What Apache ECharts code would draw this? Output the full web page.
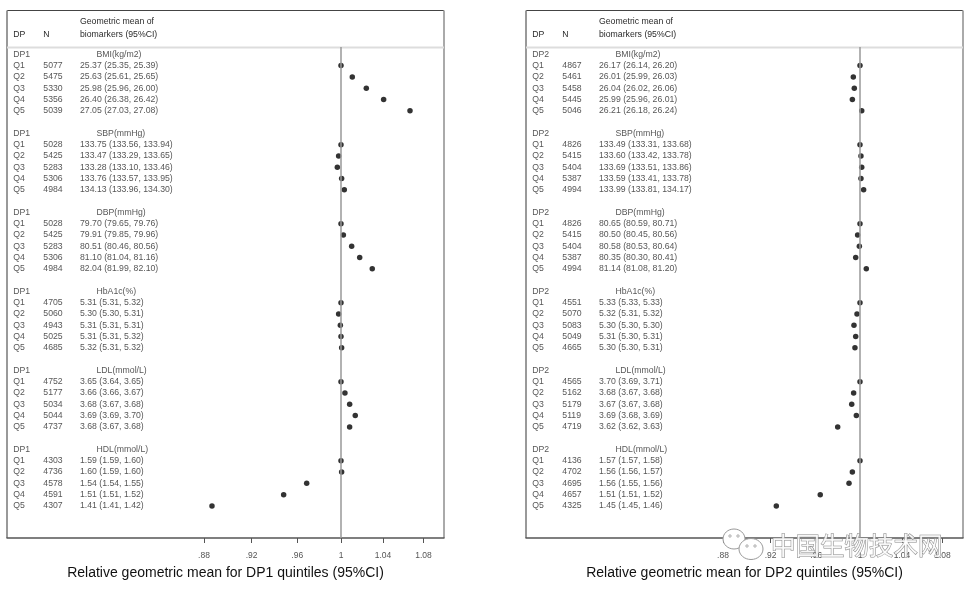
<!DOCTYPE html>
<html><head><meta charset="utf-8">
<script src="https://cdn.jsdelivr.net/npm/echarts@6/dist/echarts.min.js"></script>
<style>html,body{margin:0;padding:0;background:#fff}#c{width:969px;height:589px}</style>
</head><body><div id="c"></div>
<script>
const quintiles = ['Q1','Q2','Q3','Q4','Q5'];
const biomarkers = ['BMI(kg/m2)','SBP(mmHg)','DBP(mmHg)','HbA1c(%)','LDL(mmol/L)','HDL(mmol/L)'];
const panelNames = ['DP1','DP2'];
const axisTitles = ['Relative geometric mean for DP1 quintiles (95%CI)','Relative geometric mean for DP2 quintiles (95%CI)'];
const tickValues = [0.88,0.92,0.96,1,1.04,1.08];
const tickLabels = ['.88','.92','.96','1','1.04','1.08'];

const dp1N = [[5077,5475,5330,5356,5039],[5028,5425,5283,5306,4984],[5028,5425,5283,5306,4984],[4705,5060,4943,5025,4685],[4752,5177,5034,5044,4737],[4303,4736,4578,4591,4307]];
const dp1Mean = [
 ['25.37 (25.35, 25.39)','25.63 (25.61, 25.65)','25.98 (25.96, 26.00)','26.40 (26.38, 26.42)','27.05 (27.03, 27.08)'],
 ['133.75 (133.56, 133.94)','133.47 (133.29, 133.65)','133.28 (133.10, 133.46)','133.76 (133.57, 133.95)','134.13 (133.96, 134.30)'],
 ['79.70 (79.65, 79.76)','79.91 (79.85, 79.96)','80.51 (80.46, 80.56)','81.10 (81.04, 81.16)','82.04 (81.99, 82.10)'],
 ['5.31 (5.31, 5.32)','5.30 (5.30, 5.31)','5.31 (5.31, 5.31)','5.31 (5.31, 5.32)','5.32 (5.31, 5.32)'],
 ['3.65 (3.64, 3.65)','3.66 (3.66, 3.67)','3.68 (3.67, 3.68)','3.69 (3.69, 3.70)','3.68 (3.67, 3.68)'],
 ['1.59 (1.59, 1.60)','1.60 (1.59, 1.60)','1.54 (1.54, 1.55)','1.51 (1.51, 1.52)','1.41 (1.41, 1.42)']
];
const dp1Rel = [
 [1.000, 1.0106, 1.0239, 1.0406, 1.0665],
 [1.000, 0.9978, 0.9966, 1.0006, 1.0031],
 [1.000, 1.0022, 1.0100, 1.0176, 1.0296],
 [1.000, 0.9978, 0.9994, 1.0000, 1.0006],
 [1.000, 1.0037, 1.0081, 1.0134, 1.0081],
 [1.000, 1.0006, 0.9685, 0.9479, 0.8866]
];
const dp2N = [[4867,5461,5458,5445,5046],[4826,5415,5404,5387,4994],[4826,5415,5404,5387,4994],[4551,5070,5083,5049,4665],[4565,5162,5179,5119,4719],[4136,4702,4695,4657,4325]];
const dp2Mean = [
 ['26.17 (26.14, 26.20)','26.01 (25.99, 26.03)','26.04 (26.02, 26.06)','25.99 (25.96, 26.01)','26.21 (26.18, 26.24)'],
 ['133.49 (133.31, 133.68)','133.60 (133.42, 133.78)','133.69 (133.51, 133.86)','133.59 (133.41, 133.78)','133.99 (133.81, 134.17)'],
 ['80.65 (80.59, 80.71)','80.50 (80.45, 80.56)','80.58 (80.53, 80.64)','80.35 (80.30, 80.41)','81.14 (81.08, 81.20)'],
 ['5.33 (5.33, 5.33)','5.32 (5.31, 5.32)','5.30 (5.30, 5.30)','5.31 (5.30, 5.31)','5.30 (5.30, 5.31)'],
 ['3.70 (3.69, 3.71)','3.68 (3.67, 3.68)','3.67 (3.67, 3.68)','3.69 (3.68, 3.69)','3.62 (3.62, 3.63)'],
 ['1.57 (1.57, 1.58)','1.56 (1.56, 1.57)','1.56 (1.55, 1.56)','1.51 (1.51, 1.52)','1.45 (1.45, 1.46)']
];
const dp2Rel = [
 [1.000, 0.9938, 0.9947, 0.9929, 1.0016],
 [1.000, 1.0009, 1.0016, 1.0009, 1.0034],
 [1.000, 0.9978, 0.9994, 0.9960, 1.0059],
 [1.000, 0.9972, 0.9944, 0.9960, 0.9953],
 [1.000, 0.9941, 0.9923, 0.9966, 0.9794],
 [1.000, 0.9929, 0.9898, 0.9636, 0.9249]
];

const panels = [
  {name: panelNames[0], N: dp1N, mean: dp1Mean, rel: dp1Rel, title: axisTitles[0], left: 7},
  {name: panelNames[1], N: dp2N, mean: dp2Mean, rel: dp2Rel, title: axisTitles[1], left: 526}
];
const FONT = '"Liberation Sans", Arial, sans-serif';
const GW = 437, GTOP = 47, GH = 491;
const lnTicks = tickValues.map(v => Math.log(v));
function tickFmt(v) {
  for (let i = 0; i < lnTicks.length; i++) if (Math.abs(lnTicks[i] - v) < 1e-6) return tickLabels[i];
  return '';
}

const grid = [], xAxis = [], yAxis = [], series = [], graphic = [];
panels.forEach((p, pi) => {
  grid.push({left: p.left, top: GTOP, width: GW, height: GH, show: false, containLabel: false, outerBoundsMode: 'none'});
  xAxis.push({
    type: 'value', gridIndex: pi, min: -0.3116, max: 0.0961,
    axisLine: {show: true, onZero: false, lineStyle: {color: '#555', width: 1.5}},
    axisTick: {show: true, customValues: lnTicks, length: 5, lineStyle: {color: '#555', width: 1}},
    axisLabel: {show: true, customValues: lnTicks, formatter: tickFmt, fontSize: 8.5, color: '#555', fontFamily: FONT, margin: 13},
    splitLine: {show: false},
    name: p.title, nameLocation: 'middle', nameGap: 28,
    nameTextStyle: {fontSize: 14, color: '#111', fontFamily: FONT}
  });
  xAxis.push({type: 'value', gridIndex: pi, min: 0, max: GW, show: false});
  yAxis.push({type: 'value', gridIndex: pi, inverse: true, min: -0.6466, max: 42.84, show: false});

  const dots = [];
  const texts = [];
  biomarkers.forEach((b, g) => {
    const hr = 7 * g;
    texts.push([6.3, hr, p.name]);
    texts.push([89.5, hr, b]);
    quintiles.forEach((q, k) => {
      const r = hr + 1 + k;
      dots.push([Math.log(p.rel[g][k]), r]);
      texts.push([6.3, r, q]);
      texts.push([36.3, r, String(p.N[g][k])]);
      texts.push([73, r, p.mean[g][k]]);
    });
  });
  series.push({
    type: 'scatter', xAxisIndex: 2 * pi, yAxisIndex: pi, data: dots,
    symbol: 'circle', symbolSize: 5.5, itemStyle: {color: '#000'}, silent: true,
    markLine: {silent: true, symbol: ['none', 'none'], label: {show: false},
      lineStyle: {color: '#999', width: 1.5, type: 'solid'}, data: [{xAxis: 0}]}
  });
  series.push({
    type: 'scatter', xAxisIndex: 2 * pi + 1, yAxisIndex: pi, data: texts,
    symbolSize: 0, silent: true,
    label: {show: true, position: 'right', distance: 0, formatter: d => d.value[2],
      fontSize: 8.7, color: '#2a2a2a', fontFamily: FONT, align: 'left', verticalAlign: 'middle'}
  });

  const L = p.left, R = p.left + GW;
  graphic.push({type: 'line', shape: {x1: L, y1: 10.5, x2: R, y2: 10.5}, style: {stroke: '#444', lineWidth: 1}, silent: true});
  graphic.push({type: 'line', shape: {x1: L, y1: 10.5, x2: L, y2: 538}, style: {stroke: '#999', lineWidth: 2}, silent: true});
  graphic.push({type: 'line', shape: {x1: R, y1: 10.5, x2: R, y2: 538}, style: {stroke: '#aaa', lineWidth: 2}, silent: true});
  graphic.push({type: 'line', shape: {x1: L, y1: 47.5, x2: R, y2: 47.5}, style: {stroke: '#ddd', lineWidth: 2}, silent: true});
  const hs = {fontSize: 8.7, fontFamily: FONT, fill: '#2a2a2a', align: 'left', verticalAlign: 'middle'};
  graphic.push({type: 'text', x: L + 6.3, y: 34.3, style: Object.assign({text: 'DP'}, hs), silent: true});
  graphic.push({type: 'text', x: L + 36.3, y: 34.3, style: Object.assign({text: 'N'}, hs), silent: true});
  graphic.push({type: 'text', x: L + 73, y: 22, style: Object.assign({text: 'Geometric mean of'}, hs), silent: true});
  graphic.push({type: 'text', x: L + 73, y: 34.3, style: Object.assign({text: 'biomarkers (95%CI)'}, hs), silent: true});
});

// watermark (right panel)
graphic.push({type: 'ellipse', shape: {cx: 734, cy: 539, rx: 11, ry: 10}, style: {fill: '#fff', stroke: '#999', lineWidth: 1}, silent: true, z: 100});
graphic.push({type: 'circle', shape: {cx: 730, cy: 536, r: 1.2}, style: {fill: '#fff', stroke: '#999', lineWidth: 0.8}, silent: true, z: 100});
graphic.push({type: 'circle', shape: {cx: 738, cy: 536, r: 1.2}, style: {fill: '#fff', stroke: '#999', lineWidth: 0.8}, silent: true, z: 100});
graphic.push({type: 'ellipse', shape: {cx: 751, cy: 549, rx: 12, ry: 10.5}, style: {fill: '#fff', stroke: '#999', lineWidth: 1}, silent: true, z: 101});
graphic.push({type: 'circle', shape: {cx: 747, cy: 546, r: 1.2}, style: {fill: '#fff', stroke: '#999', lineWidth: 0.8}, silent: true, z: 101});
graphic.push({type: 'circle', shape: {cx: 755, cy: 546, r: 1.2}, style: {fill: '#fff', stroke: '#999', lineWidth: 0.8}, silent: true, z: 101});
graphic.push({type: 'text', x: 771, y: 546, z: 102, silent: true,
  style: {text: '中国生物技术网', fontSize: 24.5, fontFamily: '"Noto Sans CJK SC"', fill: 'rgba(255,255,255,0.85)', stroke: '#888', lineWidth: 1, align: 'left', verticalAlign: 'middle'}});

const chart = echarts.init(document.getElementById('c'), null, {renderer: 'canvas'});
chart.setOption({
  animation: false,
  backgroundColor: '#fff',
  grid, xAxis, yAxis, series, graphic
});
</script></body></html>
